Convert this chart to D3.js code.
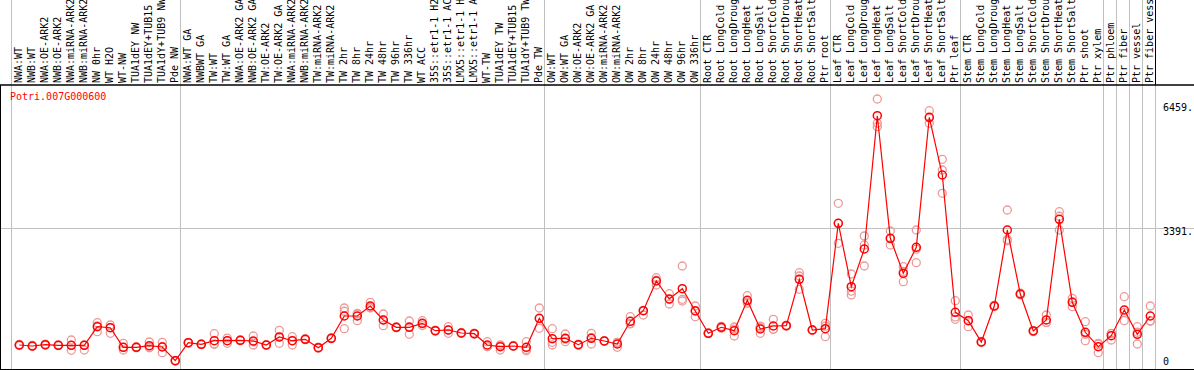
<!DOCTYPE html>
<html>
<head>
<meta charset="utf-8">
<script src="https://cdn.jsdelivr.net/npm/d3@7"></script>
<style>
  body { margin: 0; background: #fff; }
  svg { display: block; }
  text { font-family: "DejaVu Sans Mono", monospace; font-size: 10px; }
</style>
</head>
<body>
<svg id="chart" width="1194" height="370"></svg>
<script>
var geneName = "Potri.007G000600";

var samples = [
  "NWA:WT", "NWB:WT", "NWA:OE-ARK2", "NWB:OE-ARK2", "NWA:miRNA-ARK2", "NWB:miRNA-ARK2",
  "NW 0hr", "WT H2O", "WT-NW", "TUA1dEY NW", "TUA1dEY+TUB15", "TUA1dY+TUB9 NW", "Pde NW",
  "NWA:WT GA", "NWBWT GA", "TW:WT", "TW:WT GA", "NWA:OE-ARK2 GA", "NWB:OE-ARK2 GA",
  "TW:OE-ARK2", "TW:OE-ARK2 GA", "NWA:miRNA-ARK2", "NWB:miRNA-ARK2", "TW:miRNA-ARK2",
  "TW:miRNA-ARK2", "TW 2hr", "TW 8hr", "TW 24hr", "TW 48hr", "TW 96hr", "TW 336hr",
  "WT ACC", "35S::etr1-1 H2", "35S::etr1-1 AC", "LMX5::etr1-1 H", "LMX5::etr1-1 A",
  "WT-TW", "TUA1dEY TW", "TUA1dEY+TUB15", "TUA1dY+TUB9 TW", "Pde TW",
  "OW:WT", "OW:WT GA", "OW:OE-ARK2", "OW:OE-ARK2 GA", "OW:miRNA-ARK2", "OW:miRNA-ARK2",
  "OW 2hr", "OW 8hr", "OW 24hr", "OW 48hr", "OW 96hr", "OW 336hr",
  "Root CTR", "Root LongCold", "Root LongDroug", "Root LongHeat", "Root LongSalt",
  "Root ShortCold", "Root ShortDrou", "Root ShortHeat", "Root ShortSalt", "Ptr root",
  "Leaf CTR", "Leaf LongCold", "Leaf LongDroug", "Leaf LongHeat", "Leaf LongSalt",
  "Leaf ShortCold", "Leaf ShortDrou", "Leaf ShortHeat", "Leaf ShortSalt", "Ptr leaf",
  "Stem CTR", "Stem LongCold", "Stem LongDroug", "Stem LongHeat", "Stem LongSalt",
  "Stem ShortCold", "Stem ShortDrou", "Stem ShortHeat", "Stem ShortSalt", "Ptr shoot",
  "Ptr xylem", "Ptr phloem", "Ptr fiber", "Ptr vessel", "Ptr fiber vess"
];

// number of samples in each block between the grey separators
var groupSizes = [13, 28, 12, 10, 10, 11, 1, 1, 1, 1];

var means = [
  596, 572, 603, 589, 589, 589, 1032, 1008, 541, 541, 579, 548, 222,
  651, 613, 698, 698, 708, 691, 596, 787, 698, 732, 532, 756, 1287, 1287, 1525, 1192,
  1018, 1018, 1113, 937, 953, 882, 865, 596, 555, 572, 541, 1232,
  746, 756, 603, 756, 691, 620, 1161, 1413, 2121, 1692, 1938, 1406,
  875, 1018, 937, 1661, 977, 1049, 1056, 2162, 953, 984,
  3496, 1985, 2884, 6061, 3139, 2305, 2924, 6023, 4648, 1375,
  1175, 667, 1525, 3337, 1811, 930, 1192, 3592, 1614, 899, 555,
  818, 1430, 851, 1287
];

var replicates = [
  [596, 580, 610], [572, 560, 585], [603, 590, 615], [589, 580, 600], [715, 589, 470],
  [589, 600, 477], [1127, 1050, 913], [1073, 1008, 875], [636, 541, 477], [541, 530, 555],
  [667, 545, 530], [660, 560, 412], [222, 230, 215],
  [651, 640, 660], [613, 605, 620], [865, 613, 620], [698, 636, 760], [708, 700, 715],
  [810, 596, 670], [596, 585, 605], [946, 636, 780], [794, 596, 700], [732, 720, 745],
  [532, 520, 545], [756, 745, 765], [1478, 984, 1400], [1351, 1175, 1330], [1614, 1480, 1490],
  [1335, 1056, 1190], [1018, 1005, 1030], [1168, 851, 1035], [1175, 1060, 1100],
  [937, 925, 950], [1032, 875, 950], [882, 870, 895], [865, 855, 880], [675, 560, 555],
  [477, 580, 600], [572, 565, 580], [675, 490, 460], [1478, 994, 1225],
  [984, 596, 660], [858, 675, 735], [603, 590, 615], [875, 620, 770], [691, 680, 700],
  [541, 660, 660], [1270, 1113, 1100], [1311, 1413, 1420], [2200, 2026, 2140],
  [1819, 1573, 1680], [2479, 1685, 1645], [1525, 1270, 1420],
  [875, 865, 885], [1018, 1040, 995], [810, 1025, 975], [1771, 1620, 1590], [875, 1010, 1045],
  [1208, 970, 970], [1056, 1045, 1070], [2319, 1923, 2240], [953, 945, 960], [1113, 794, 1045],
  [3973, 3020, 3495], [2288, 1788, 1880], [3194, 2479, 2980], [6459, 5880, 5799],
  [3313, 2979, 3125], [2462, 2105, 2350], [3337, 2557, 2880], [6180, 5880, 6010],
  [5022, 4767, 4211], [1652, 1208, 1265],
  [1311, 1032, 1180], [667, 655, 680], [1525, 1510, 1540], [3813, 3115, 3080],
  [1811, 1790, 1830], [930, 915, 945], [1311, 1130, 1135], [3773, 3337, 3665],
  [1709, 1509, 1625], [1151, 698, 850], [412, 636, 620],
  [875, 715, 865], [1747, 1175, 1370], [1032, 620, 900], [1525, 1175, 1160]
];

var yTicks = [0, 3391, 6459];

var svg = d3.select("#chart"),
    width = +svg.attr("width"),
    height = +svg.attr("height");

var x = d3.scaleBand()
    .domain(d3.range(samples.length))
    .range([11, 1155]);

var y = d3.scaleLinear()
    .domain([0, 6459])
    .range([370, 99]);

var px = function(i) { return x(i) + 8.3; };   // marker sits a bit right of band centre

// grey separators between sample blocks
var bounds = [0];
groupSizes.forEach(function(n) { bounds.push(bounds[bounds.length - 1] + n); });

svg.append("g")
    .selectAll("line")
    .data(bounds)
    .enter().append("line")
    .attr("x1", function(b) { return b < samples.length ? x(b) + 0.5 : x.range()[1] + 0.5; })
    .attr("x2", function(b) { return b < samples.length ? x(b) + 0.5 : x.range()[1] + 0.5; })
    .attr("y1", 0)
    .attr("y2", height)
    .attr("stroke", "#c0c0c0");

// black tick above the value labels
svg.append("line")
    .attr("x1", 1155.5).attr("x2", 1155.5)
    .attr("y1", 0).attr("y2", 85)
    .attr("stroke", "#000");

// middle grid line
svg.append("line")
    .attr("x1", 0).attr("x2", width)
    .attr("y1", Math.round(y(yTicks[1])) + 0.5)
    .attr("y2", Math.round(y(yTicks[1])) + 0.5)
    .attr("stroke", "#c0c0c0");

// frame
svg.append("line").attr("x1", 0).attr("x2", width).attr("y1", 85).attr("y2", 85)
    .attr("stroke", "#000").attr("stroke-width", 1.5);
svg.append("line").attr("x1", 0).attr("x2", width).attr("y1", 369.5).attr("y2", 369.5)
    .attr("stroke", "#000");
svg.append("line").attr("x1", 0.5).attr("x2", 0.5).attr("y1", 85).attr("y2", 370)
    .attr("stroke", "#000");

// sample names, rotated
svg.append("g")
    .selectAll("text")
    .data(samples)
    .enter().append("text")
    .attr("transform", function(d, i) {
        return "translate(" + (x(i) + x.bandwidth() / 2 + 4) + ",83) rotate(-90)";
    })
    .attr("fill", "#000")
    .text(function(d) { return d; });

// gene id
svg.append("text")
    .attr("x", 10)
    .attr("y", 100)
    .attr("fill", "#ff0000")
    .text(geneName);

// value labels on the right
var yAxis = d3.axisRight(y)
    .tickValues(yTicks)
    .tickSize(0)
    .tickPadding(0)
    .tickFormat(function(d) { return d === 0 ? "0" : d + "."; });

var ax = svg.append("g")
    .attr("transform", "translate(1163,0)")
    .call(yAxis);
ax.select(".domain").remove();
ax.selectAll("text")
    .attr("x", 0)
    .attr("dy", function(d) { return d === 0 ? "-0.55em" : (d === 6459 ? "1.1em" : "0.7em"); })
    .attr("fill", "#000")
    .style("font-family", "\"DejaVu Sans Mono\", monospace")
    .style("font-size", "10px");

// replicate markers
var repPts = [];
replicates.forEach(function(r, i) {
    r.forEach(function(v) { repPts.push({ i: i, v: v }); });
});

svg.append("g")
    .selectAll("circle")
    .data(repPts)
    .enter().append("circle")
    .attr("cx", function(d) { return px(d.i); })
    .attr("cy", function(d) { return y(d.v); })
    .attr("r", 4)
    .attr("fill", "none")
    .attr("stroke", "#ee9999")
    .attr("stroke-width", 1.3);

// mean line
var line = d3.line()
    .x(function(d, i) { return px(i); })
    .y(function(d) { return y(d); });

svg.append("path")
    .datum(means)
    .attr("d", line)
    .attr("fill", "none")
    .attr("stroke", "#ff0000")
    .attr("stroke-width", 1.2);

// mean markers
svg.append("g")
    .selectAll("circle")
    .data(means)
    .enter().append("circle")
    .attr("cx", function(d, i) { return px(i); })
    .attr("cy", function(d) { return y(d); })
    .attr("r", 4)
    .attr("fill", "none")
    .attr("stroke", "#ff0000")
    .attr("stroke-width", 1.5);
</script>
</body>
</html>
